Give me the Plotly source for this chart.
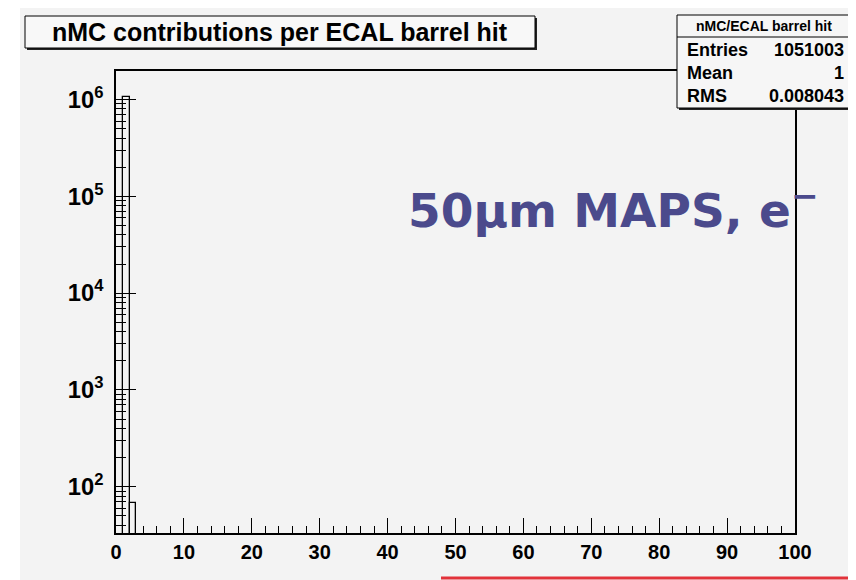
import plotly.graph_objects as go

# histogram contents (bins of width 1 on 0..100, only non-empty bins kept)
bin_lo = [1, 2]
counts = [1050935, 68]
x_range = [0, 100]
y_range_log = [1.522, 6.295]

title_text = "nMC contributions per ECAL barrel hit"
stats_name = "nMC/ECAL barrel hit"
stats_rows = [("Entries", "1051003"), ("Mean", "1"), ("RMS", "0.008043")]
label_text = "50\u03bcm MAPS, e<sup>\u2212</sup>"

BG = "#f3f3f3"
FONT = "Liberation Sans, Arial, sans-serif"

# the page body adds an 8px margin, so the figure is 8px smaller and shifted
OFF = 8
W, H = 856 - OFF, 580 - OFF
L, R, T, B = 116 - OFF, 795 - OFF, 71 - OFF, 533 - OFF
PW, PH = R - L, B - T


def px(x):
    # x given in screen pixels
    return (x - OFF - L) / PW


def py(y):
    return (B - (y - OFF)) / PH


minor_vals = [m * 10 ** k for k in range(1, 7) for m in range(2, 10)]

fig = go.Figure()
fig.add_trace(go.Bar(
    x=[b + 0.5 for b in bin_lo], y=counts, width=1,
    marker=dict(color="rgba(0,0,0,0)", line=dict(color="black", width=1.3)),
    hoverinfo="skip", showlegend=False,
))
fig.add_trace(go.Scatter(x=[], y=[], yaxis="y2", showlegend=False, hoverinfo="skip"))

fig.update_layout(
    width=W, height=H,
    margin=dict(l=L, r=W - R, t=T, b=H - B),
    paper_bgcolor=BG, plot_bgcolor=BG,
    showlegend=False, bargap=0,
    xaxis=dict(range=x_range, showgrid=False, zeroline=False,
               showline=True, linecolor="black", linewidth=1.5, mirror=True,
               ticks="inside", ticklen=15, tickcolor="black", dtick=10, tick0=0,
               minor=dict(ticks="inside", ticklen=7, dtick=2, tickcolor="black"),
               tickfont=dict(family=FONT, size=20, color="black", weight="bold")),
    yaxis=dict(type="log", range=y_range_log, showgrid=False, zeroline=False,
               showline=True, linecolor="black", linewidth=1.5, mirror=True,
               ticks="inside", ticklen=20, tickcolor="black", dtick=1,
               exponentformat="power", ticklabelstandoff=7,
               tickfont=dict(family=FONT, size=19, color="black", weight="bold")),
    yaxis2=dict(type="log", range=y_range_log, overlaying="y", side="left",
                showgrid=False, zeroline=False, showline=False,
                ticks="inside", ticklen=10, tickcolor="black",
                tickvals=minor_vals, showticklabels=False),
)

shapes = []
# white strip on the left edge of the slide
shapes.append(dict(type="rect", xref="paper", yref="paper", x0=px(OFF), x1=px(20), y0=py(580), y1=py(OFF),
                   fillcolor="white", line=dict(width=0), layer="below"))
# title box with shadow
shapes.append(dict(type="rect", xref="paper", yref="paper", x0=px(27), x1=px(537), y0=py(50), y1=py(18),
                   fillcolor="#222222", line=dict(width=0)))
shapes.append(dict(type="rect", xref="paper", yref="paper", x0=px(25), x1=px(535), y0=py(48), y1=py(16),
                   fillcolor="#f8f8f8", line=dict(color="black", width=1)))
# stats box with shadow
shapes.append(dict(type="rect", xref="paper", yref="paper", x0=px(679), x1=px(853), y0=py(110), y1=py(17),
                   fillcolor="#222222", line=dict(width=0)))
shapes.append(dict(type="rect", xref="paper", yref="paper", x0=px(677), x1=px(851), y0=py(108), y1=py(15),
                   fillcolor="#f6f6f6", line=dict(color="black", width=1)))
shapes.append(dict(type="line", xref="paper", yref="paper", x0=px(677), x1=px(851), y0=py(37), y1=py(37),
                   line=dict(color="black", width=1)))
# red rule at the bottom of the slide
shapes.append(dict(type="line", xref="paper", yref="paper", x0=px(441), x1=px(856), y0=py(578), y1=py(578),
                   line=dict(color="#e2323a", width=3)))
fig.update_layout(shapes=shapes)

ann = []
ann.append(dict(text=title_text, xref="paper", yref="paper", x=px(280), y=py(32),
                xanchor="center", yanchor="middle", showarrow=False,
                font=dict(family=FONT, size=25, color="black", weight="bold")))
ann.append(dict(text=stats_name, xref="paper", yref="paper", x=px(764), y=py(26),
                xanchor="center", yanchor="middle", showarrow=False,
                font=dict(family=FONT, size=14, color="black", weight="bold")))
for i, (k, v) in enumerate(stats_rows):
    yy = py(50 + 23 * i)
    ann.append(dict(text=k, xref="paper", yref="paper", x=px(685), y=yy,
                    xanchor="left", yanchor="middle", showarrow=False,
                    font=dict(family=FONT, size=18, color="black", weight="bold")))
    ann.append(dict(text=v, xref="paper", yref="paper", x=px(846), y=yy,
                    xanchor="right", yanchor="middle", showarrow=False,
                    font=dict(family=FONT, size=18, color="black", weight="bold")))
ann.append(dict(text=label_text, xref="paper", yref="paper", x=px(406), y=py(207),
                xanchor="left", yanchor="middle", showarrow=False,
                font=dict(family="DejaVu Sans, sans-serif", size=47, color="#4b4a8c", weight="bold")))
fig.update_layout(annotations=ann)

fig.write_html("out.html")
